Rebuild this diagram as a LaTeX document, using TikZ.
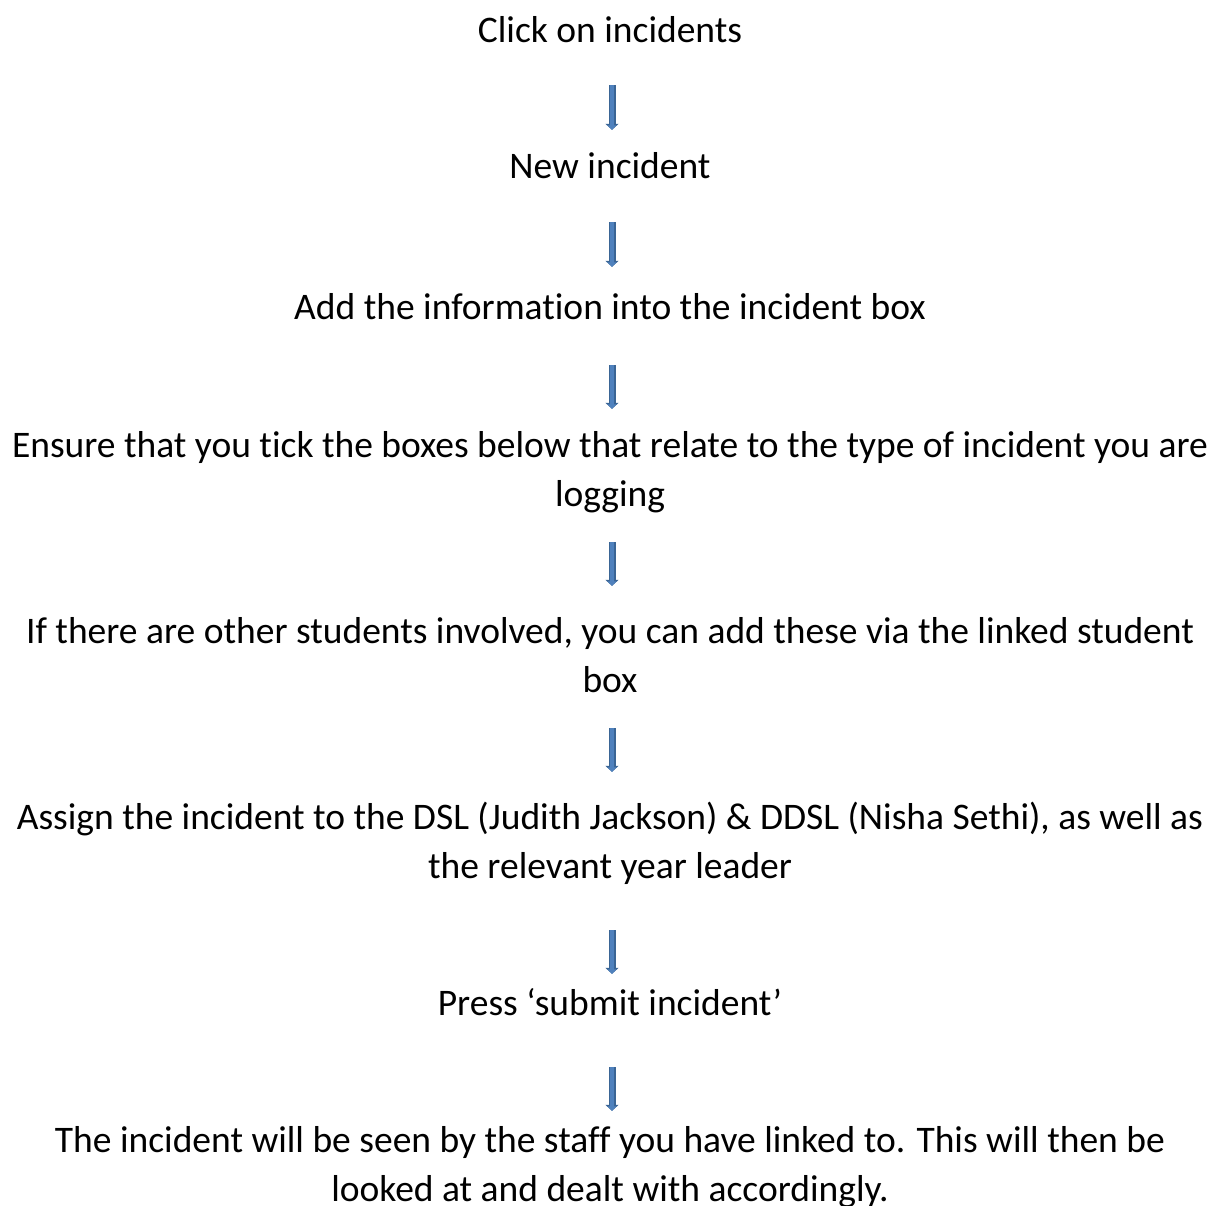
\documentclass[tikz,border=0pt]{standalone}
\usepackage{fontspec}
\setmainfont{Carlito}[Ligatures={TeX,NoCommon}]
\usepackage{tikz}
\usetikzlibrary{arrows.meta}
\definecolor{arrowfill}{HTML}{4F81BD}
\definecolor{arrowedge}{HTML}{3A6595}
\tikzset{
  stepnode/.style={
    anchor=base,
    inner sep=0pt,
    align=center,
    font=\fontsize{37.5}{49}\selectfont},
  blockarrow/.style={
    draw=arrowfill, line width=4.5pt,
    -{Triangle[width=9pt,length=4.5pt]},
    shorten >=1.2pt,
    preaction={draw=arrowedge, line width=7pt,
      -{Triangle[width=13pt,length=6pt]}}},
}
\begin{document}
\begin{tikzpicture}[x=1pt,y=-1pt]
\useasboundingbox (0,0) rectangle (1218,1205);
% base anchor sits on the last line
\node[stepnode] (click) at (610,42) {Click on incidents};
\node[stepnode] (new) at (610,178) {New incident};
\node[stepnode] (add) at (610,319) {Add the information into the incident box};
\node[stepnode] (tick) at (610,506) {Ensure that you tick the boxes below that relate to the type of incident you are\\ logging};
\node[stepnode] (link) at (610,692) {If there are other students involved, you can add these via the linked student\\ box};
\node[stepnode] (assign) at (610,878) {Assign the incident to the DSL (Judith Jackson) \& DDSL (Nisha Sethi), as well as\\ the relevant year leader};
\node[stepnode] (submit) at (610,1015) {Press ‘submit incident’};
\node[stepnode] (seen) at (610,1201) {The incident will be seen by the staff you have linked to. This will then be\\ looked at and dealt with accordingly.};
\foreach \a/\b/\s/\e in {click/new/43/47, new/add/44/51, add/tick/46/96,
    tick/link/36/105, link/assign/36/105, assign/submit/52/40, submit/seen/52/89}{
  \draw[blockarrow] ([xshift=2pt,yshift=-\s pt]\a.base) -- ([xshift=2pt,yshift=\e pt]\b.base);
}
\end{tikzpicture}
\end{document}
